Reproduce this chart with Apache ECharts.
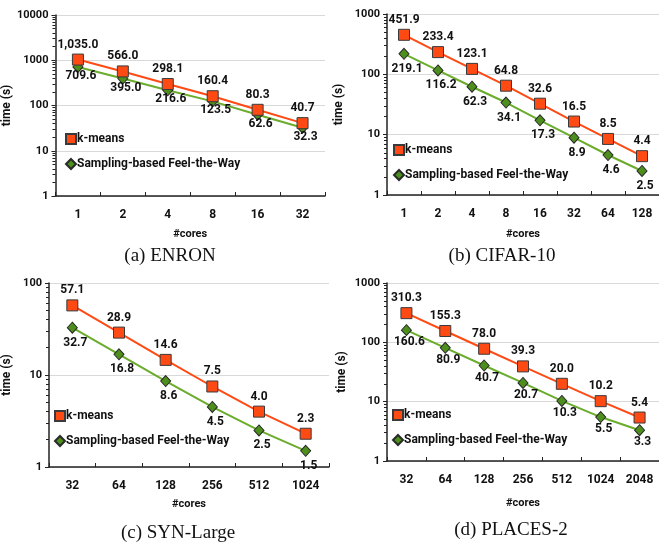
<!DOCTYPE html>
<html>
<head>
<meta charset="utf-8">
<script src="https://cdn.jsdelivr.net/npm/echarts@6/dist/echarts.min.js"></script>
<style>
  html, body { margin: 0; padding: 0; background: #fff; }
  #main { width: 659px; height: 546px; }
</style>
</head>
<body>
<div id="main"></div>
<script>
// data
const coresA = ['1', '2', '4', '8', '16', '32'];
const kmeansA = [1035.0, 566.0, 298.1, 160.4, 80.3, 40.7];
const ftwA = [709.6, 395.0, 216.6, 123.5, 62.6, 32.3];

const coresB = ['1', '2', '4', '8', '16', '32', '64', '128'];
const kmeansB = [451.9, 233.4, 123.1, 64.8, 32.6, 16.5, 8.5, 4.4];
const ftwB = [219.1, 116.2, 62.3, 34.1, 17.3, 8.9, 4.6, 2.5];

const coresC = ['32', '64', '128', '256', '512', '1024'];
const kmeansC = [57.1, 28.9, 14.6, 7.5, 4.0, 2.3];
const ftwC = [32.7, 16.8, 8.6, 4.5, 2.5, 1.5];

const coresD = ['32', '64', '128', '256', '512', '1024', '2048'];
const kmeansD = [310.3, 155.3, 78.0, 39.3, 20.0, 10.2, 5.4];
const ftwD = [160.6, 80.9, 40.7, 20.7, 10.3, 5.5, 3.3];

const yMax = [10000, 1000, 100, 1000];
const captions = ['(a) ENRON', '(b) CIFAR-10', '(c) SYN-Large', '(d) PLACES-2'];

const FONT = 'Roboto';
const ORANGE = '#ff4a14';
const GREEN = '#4d8f1c';

const panels = [
  { cats: coresA, km: kmeansA, ftw: ftwA,
    grid: { left: 55, top: 15, width: 270, height: 181 },
    yGap: 42, xGap: 33, legend: { left: 65, top: 133 }, title: { left: 165, top: 242 }, ftwOff: -3 },
  { cats: coresB, km: kmeansB, ftw: ftwB,
    grid: { left: 387, top: 14, width: 272, height: 181 },
    yGap: 42, xGap: 34, legend: { left: 393, top: 144 }, title: { left: 497, top: 242 }, ftwOff: 3 },
  { cats: coresC, km: kmeansC, ftw: ftwC,
    grid: { left: 46, top: 283, width: 283, height: 184 },
    yGap: 36, xGap: 32, legend: { left: 54, top: 410 }, title: { left: 173, top: 519 }, ftwOff: 3 },
  { cats: coresD, km: kmeansD, ftw: ftwD,
    grid: { left: 387, top: 283, width: 272, height: 178 },
    yGap: 39, xGap: 37, legend: { left: 392, top: 409 }, title: { left: 506, top: 516 }, ftwOff: 0 }
];

function fmt(v) {
  return v.toLocaleString('en-US', { minimumFractionDigits: 1, maximumFractionDigits: 1 });
}

const option = {
  backgroundColor: '#fff',
  animation: false,
  textStyle: { fontFamily: FONT },
  title: [],
  legend: [],
  grid: [],
  xAxis: [],
  yAxis: [],
  series: []
};

panels.forEach((p, i) => {
  option.grid.push(p.grid);
  option.title.push({
    text: captions[i],
    left: p.title.left,
    top: p.title.top,
    textAlign: 'center',
    textStyle: { fontFamily: 'Liberation Serif', fontSize: 19, fontWeight: 'normal', color: '#111' }
  });
  option.legend.push({
    orient: 'vertical',
    left: p.legend.left,
    top: p.legend.top,
    itemWidth: 10,
    itemHeight: 10,
    itemGap: 13,
    padding: 0,
    selectedMode: false,
    textStyle: { fontFamily: FONT, fontWeight: 'bold', fontSize: 12, color: '#111', padding: [0, 0, 0, -4] },
    data: [
      { name: 'k-means', icon: 'rect' },
      { name: 'Sampling-based Feel-the-Way', icon: 'diamond' }
    ]
  });
  option.xAxis.push({
    type: 'category',
    gridIndex: i,
    data: p.cats,
    boundaryGap: true,
    name: '#cores',
    nameLocation: 'middle',
    nameGap: p.xGap,
    nameTextStyle: { fontFamily: FONT, fontWeight: 'bold', fontSize: 11, color: '#111' },
    axisLine: { lineStyle: { color: '#222', width: 1.5 } },
    axisTick: { show: true, inside: true, length: 4, lineStyle: { color: '#222' } },
    axisLabel: { margin: 13, fontFamily: FONT, fontWeight: 'bold', fontSize: 12, color: '#111' },
    splitLine: { show: false }
  });
  option.yAxis.push({
    type: 'log',
    gridIndex: i,
    logBase: 10,
    min: 1,
    max: yMax[i],
    name: 'time (s)',
    nameLocation: 'middle',
    nameGap: p.yGap,
    nameTextStyle: { fontFamily: FONT, fontWeight: 'bold', fontSize: 12, color: '#111' },
    axisLine: { show: true, lineStyle: { color: '#222', width: 1.5 } },
    axisTick: { show: true, length: 4, lineStyle: { color: '#222' } },
    minorTick: { show: true, splitNumber: 9, length: 3, lineStyle: { color: '#222' } },
    axisLabel: {
      margin: 7, fontFamily: FONT, fontWeight: 'bold', fontSize: 11, color: '#111',
      formatter: (v) => String(Math.round(v))
    },
    splitLine: { show: true, lineStyle: { color: '#d9d9d9', width: 1 } }
  });
  option.series.push({
    name: 'k-means',
    type: 'line',
    xAxisIndex: i,
    yAxisIndex: i,
    data: p.km,
    symbol: 'rect',
    symbolSize: 11,
    lineStyle: { color: ORANGE, width: 2 },
    itemStyle: { color: ORANGE, borderColor: '#3a3a3a', borderWidth: 1 },
    label: {
      show: true,
      position: 'top',
      distance: 3,
      formatter: (d) => fmt(d.value),
      fontFamily: FONT, fontWeight: 'bold', fontSize: 12, color: '#111'
    },
    z: 3
  });
  option.series.push({
    name: 'Sampling-based Feel-the-Way',
    type: 'line',
    xAxisIndex: i,
    yAxisIndex: i,
    data: p.ftw,
    symbol: 'diamond',
    symbolSize: [10, 11],
    lineStyle: { color: '#6aac2c', width: 2 },
    itemStyle: { color: GREEN, borderColor: '#2a2a2a', borderWidth: 1 },
    label: {
      show: true,
      position: 'bottom',
      distance: 0,
      offset: [3, p.ftwOff],
      formatter: (d) => fmt(d.value),
      fontFamily: FONT, fontWeight: 'bold', fontSize: 12, color: '#111'
    },
    z: 2
  });
});

const chart = echarts.init(document.getElementById('main'), null, { renderer: 'canvas' });
chart.setOption(option);
</script>
</body>
</html>
